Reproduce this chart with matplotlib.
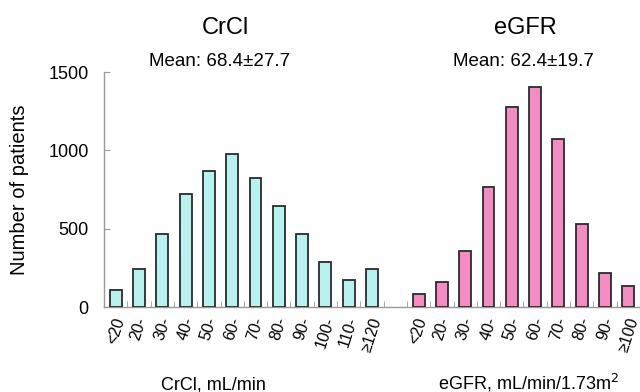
import numpy as np
import matplotlib
matplotlib.use("Agg")
import matplotlib.pyplot as plt

plt.rcParams["font.family"] = ["Liberation Sans", "DejaVu Sans"]

# ---- data ----
crcl_cats = ["<20", "20-", "30-", "40-", "50-", "60-", "70-", "80-", "90-", "100-", "110-", "\u2265120"]
crcl_vals = [110, 243, 463, 723, 866, 976, 821, 647, 463, 287, 170, 243]
egfr_cats = ["<20", "20-", "30-", "40-", "50-", "60-", "70-", "80-", "90-", "\u2265100"]
egfr_vals = [81, 157, 359, 763, 1274, 1404, 1074, 527, 217, 136]

GAP = 1                                     # one empty slot between the two groups
x1 = np.arange(len(crcl_cats))
x2 = np.arange(len(egfr_cats)) + len(crcl_cats) + GAP

fig = plt.figure(figsize=(6.4, 3.92), dpi=100)
ax = fig.add_axes([0.1625, 0.2168, 0.8375, 0.5995])

edge = "#2b2b2b"
ax.bar(x1, crcl_vals, width=0.51, color="#b8f2f0", edgecolor=edge, linewidth=1.3, zorder=3)
ax.bar(x2, egfr_vals, width=0.51, color="#f48cc4", edgecolor=edge, linewidth=1.3, zorder=3)

ax.set_ylim(0, 1500)
ax.set_xlim(-0.43, 22.38)
ax.set_yticks([0, 500, 1000, 1500])
ax.tick_params(axis="y", direction="in", length=4, color="#999999", labelsize=13, pad=11)

ax.set_xticks(np.concatenate([x1, x2]))
ax.set_xticklabels(crcl_cats + egfr_cats, rotation=72, fontsize=11.5)
ax.tick_params(axis="x", which="major", length=0, pad=6)
ax.set_xticks(np.arange(-0.5, 23, 1.0), minor=True)
ax.tick_params(axis="x", which="minor", direction="in", length=4, color="#999999")

for s in ["top", "right"]:
    ax.spines[s].set_visible(False)
for s in ["left", "bottom"]:
    ax.spines[s].set_color("#999999")
    ax.spines[s].set_linewidth(1.0)

ax.set_ylabel("Number of patients", fontsize=14.5, labelpad=14)

# group titles and axis captions
fig.text(225 / 640, 1 - 28 / 392, "CrCl", fontsize=17, ha="center", va="center")
fig.text(220 / 640, 1 - 61 / 392, "Mean: 68.4\u00b127.7", fontsize=13.5, ha="center", va="center")
fig.text(525 / 640, 1 - 28 / 392, "eGFR", fontsize=17, ha="center", va="center")
fig.text(523 / 640, 1 - 61 / 392, "Mean: 62.4\u00b119.7", fontsize=13.5, ha="center", va="center")
fig.text(213 / 640, 1 - 389 / 392, "CrCl, mL/min", fontsize=13, ha="center", va="baseline")
fig.text(528 / 640, 1 - 389 / 392, "eGFR, mL/min/1.73m$^2$", fontsize=13, ha="center", va="baseline")

fig.savefig("out.png", dpi=100)
